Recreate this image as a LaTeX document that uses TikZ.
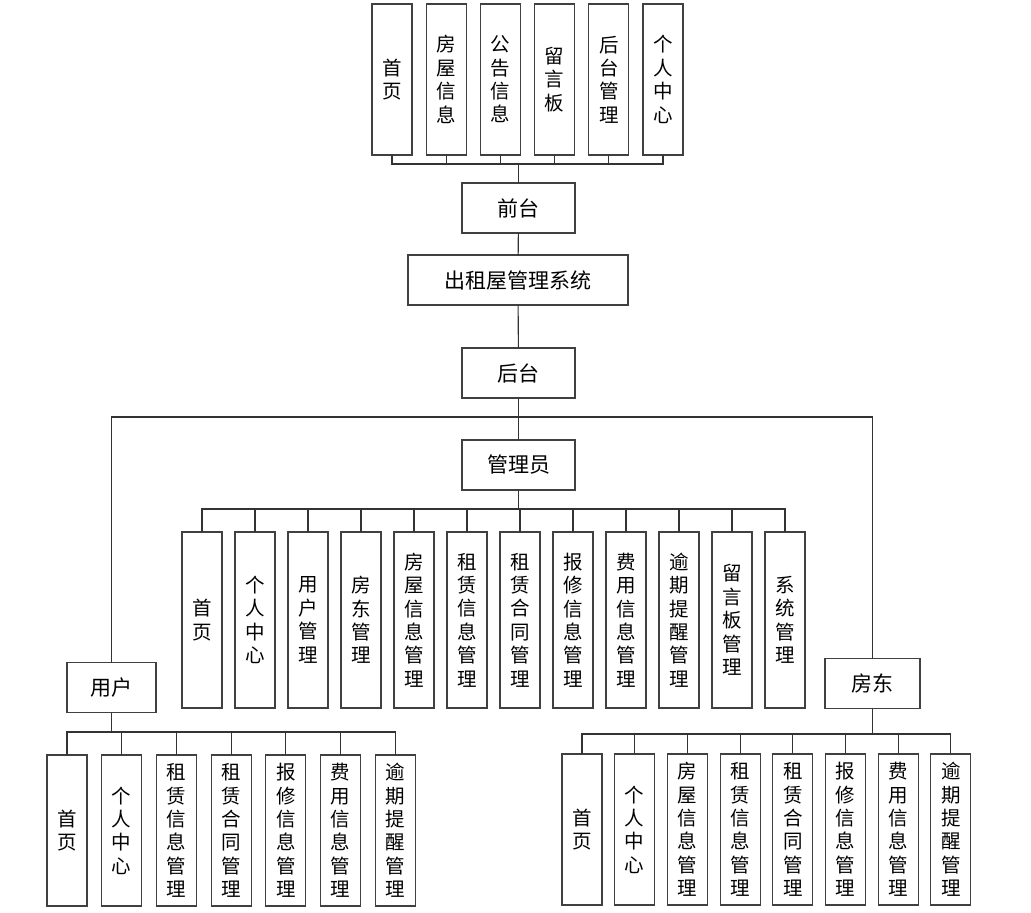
\documentclass[tikz,border=0pt]{standalone}
\usepackage{fontspec}
\setmainfont{Noto Sans CJK SC}
\usepackage{tikz}
\usetikzlibrary{positioning}

\begin{document}
\begin{tikzpicture}[
    x=1pt, y=-1pt,
    font=\fontsize{19.5}{23.4}\selectfont,
    box/.style={draw=black!75, line width=1.1pt, align=center, inner sep=0pt, outer sep=0pt},
    mid/.style={box, minimum height=50pt, font=\fontsize{21}{25}\selectfont},
    item/.style={box, minimum width=40pt, minimum height=151pt},
    tall/.style={item, minimum height=176pt},
    link/.style={draw=black!80, line width=1.1pt}
]
\useasboundingbox (0,0) rectangle (1031,913);

% front end
\node[item] (t1) at (392,79.5) {首\\页};
\node[item, right=14.2pt of t1] (t2) {房\\屋\\信\\息};
\node[item, right=14.2pt of t2] (t3) {公\\告\\信\\息};
\node[item, right=14.2pt of t3] (t4) {留\\言\\板};
\node[item, right=14.2pt of t4] (t5) {后\\台\\管\\理};
\node[item, right=14.2pt of t5] (t6) {个\\人\\中\\心};

\node[mid, minimum width=113pt] (front) at (518.5,208) {前台};
\node[mid, minimum width=220pt] (sys) at (518,280) {出租屋管理系统};
\node[mid, minimum width=113pt] (back) at (518.5,373) {后台};
\node[mid, minimum width=113pt] (admin) at (518.5,465) {管理员};
\node[mid, minimum width=89pt] (user) at (111.5,687.5) {用户};
\node[mid, minimum width=95pt] (owner) at (872.5,683.5) {房东};

% admin modules
\node[tall] (a1) at (202,620) {首\\页};
\node[tall, right=13pt of a1] (a2) {个\\人\\中\\心};
\node[tall, right=13pt of a2] (a3) {用\\户\\管\\理};
\node[tall, right=13pt of a3] (a4) {房\\东\\管\\理};
\node[tall, right=13pt of a4] (a5) {房\\屋\\信\\息\\管\\理};
\node[tall, right=13pt of a5] (a6) {租\\赁\\信\\息\\管\\理};
\node[tall, right=13pt of a6] (a7) {租\\赁\\合\\同\\管\\理};
\node[tall, right=13pt of a7] (a8) {报\\修\\信\\息\\管\\理};
\node[tall, right=13pt of a8] (a9) {费\\用\\信\\息\\管\\理};
\node[tall, right=13pt of a9] (a10) {逾\\期\\提\\醒\\管\\理};
\node[tall, right=13pt of a10] (a11) {留\\言\\板\\管\\理};
\node[tall, right=13pt of a11] (a12) {系\\统\\管\\理};

% user modules
\node[item] (u1) at (67,830.5) {首\\页};
\node[item, right=14.7pt of u1] (u2) {个\\人\\中\\心};
\node[item, right=14.7pt of u2] (u3) {租\\赁\\信\\息\\管\\理};
\node[item, right=14.7pt of u3] (u4) {租\\赁\\合\\同\\管\\理};
\node[item, right=14.7pt of u4] (u5) {报\\修\\信\\息\\管\\理};
\node[item, right=14.7pt of u5] (u6) {费\\用\\信\\息\\管\\理};
\node[item, right=14.7pt of u6] (u7) {逾\\期\\提\\醒\\管\\理};

% owner modules
\node[item] (o1) at (582,829.5) {首\\页};
\node[item, right=12.7pt of o1] (o2) {个\\人\\中\\心};
\node[item, right=12.7pt of o2] (o3) {房\\屋\\信\\息\\管\\理};
\node[item, right=12.7pt of o3] (o4) {租\\赁\\信\\息\\管\\理};
\node[item, right=12.7pt of o4] (o5) {租\\赁\\合\\同\\管\\理};
\node[item, right=12.7pt of o5] (o6) {报\\修\\信\\息\\管\\理};
\node[item, right=12.7pt of o6] (o7) {费\\用\\信\\息\\管\\理};
\node[item, right=12.7pt of o7] (o8) {逾\\期\\提\\醒\\管\\理};

% bus points
\coordinate (frontbus) at (518.5,164);
\coordinate (split) at (518.5,417);
\coordinate (adminbus) at (518.5,509);
\coordinate (userbus) at (111.5,732);
\coordinate (ownerbus) at (872.5,734);

\draw[link] (front.north) -- (frontbus);
\draw[link] (t1.south) |- (frontbus);
\draw[link] (t2.south) |- (frontbus);
\draw[link] (t3.south) |- (frontbus);
\draw[link] (t4.south) |- (frontbus);
\draw[link] (t5.south) |- (frontbus);
\draw[link] (t6.south) |- (frontbus);

\draw[link] (front) -- (sys);
\draw[link] (sys) -- (back);
\draw[link] (back) -- (admin);
\draw[link] (split) -| (user.north);
\draw[link] (split) -| (owner.north);

\draw[link] (admin.south) -- (adminbus);
\draw[link] (a1.north) |- (adminbus);
\draw[link] (a2.north) |- (adminbus);
\draw[link] (a3.north) |- (adminbus);
\draw[link] (a4.north) |- (adminbus);
\draw[link] (a5.north) |- (adminbus);
\draw[link] (a6.north) |- (adminbus);
\draw[link] (a7.north) |- (adminbus);
\draw[link] (a8.north) |- (adminbus);
\draw[link] (a9.north) |- (adminbus);
\draw[link] (a10.north) |- (adminbus);
\draw[link] (a11.north) |- (adminbus);
\draw[link] (a12.north) |- (adminbus);

\draw[link] (user.south) -- (userbus);
\draw[link] (u1.north) |- (userbus);
\draw[link] (u2.north) |- (userbus);
\draw[link] (u3.north) |- (userbus);
\draw[link] (u4.north) |- (userbus);
\draw[link] (u5.north) |- (userbus);
\draw[link] (u6.north) |- (userbus);
\draw[link] (u7.north) |- (userbus);

\draw[link] (owner.south) -- (ownerbus);
\draw[link] (o1.north) |- (ownerbus);
\draw[link] (o2.north) |- (ownerbus);
\draw[link] (o3.north) |- (ownerbus);
\draw[link] (o4.north) |- (ownerbus);
\draw[link] (o5.north) |- (ownerbus);
\draw[link] (o6.north) |- (ownerbus);
\draw[link] (o7.north) |- (ownerbus);
\draw[link] (o8.north) |- (ownerbus);
\end{tikzpicture}
\end{document}
